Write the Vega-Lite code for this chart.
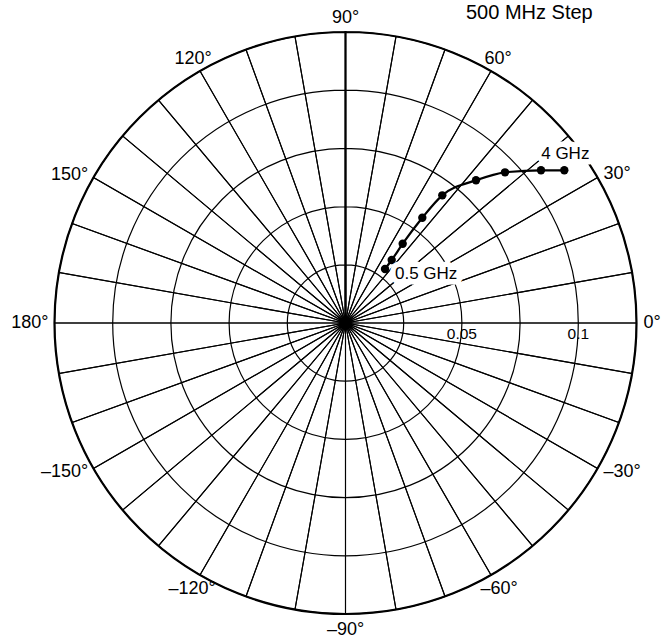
{
  "$schema": "https://vega.github.io/schema/vega-lite/v6.json",
  "width": 582,
  "height": 582,
  "autosize": "none",
  "padding": {"left": 54.5, "top": 32, "right": 31.5, "bottom": 25},
  "background": "white",
  "config": {"view": {"stroke": null}, "font": "Liberation Sans", "text": {"font": "Liberation Sans"}},
  "datasets": {
    "rings": [{"r": 0.025}, {"r": 0.05}, {"r": 0.075}, {"r": 0.1}, {"r": 0.125}],
    "spokes": [
      {"a": 0, "a2": 10}, {"a": 10, "a2": 20}, {"a": 20, "a2": 30}, {"a": 30, "a2": 40},
      {"a": 40, "a2": 50}, {"a": 50, "a2": 60}, {"a": 60, "a2": 70}, {"a": 70, "a2": 80},
      {"a": 80, "a2": 90}, {"a": 90, "a2": 100}, {"a": 100, "a2": 110}, {"a": 110, "a2": 120},
      {"a": 120, "a2": 130}, {"a": 130, "a2": 140}, {"a": 140, "a2": 150}, {"a": 150, "a2": 160},
      {"a": 160, "a2": 170}, {"a": 170, "a2": 180}, {"a": 180, "a2": 190}, {"a": 190, "a2": 200},
      {"a": 200, "a2": 210}, {"a": 210, "a2": 220}, {"a": 220, "a2": 230}, {"a": 230, "a2": 240},
      {"a": 240, "a2": 250}, {"a": 250, "a2": 260}, {"a": 260, "a2": 270}, {"a": 270, "a2": 280},
      {"a": 280, "a2": 290}, {"a": 290, "a2": 300}, {"a": 300, "a2": 310}, {"a": 310, "a2": 320},
      {"a": 320, "a2": 330}, {"a": 330, "a2": 340}, {"a": 340, "a2": 350}, {"a": 350, "a2": 360}
    ],
    "angles": [
      {"phi": 0, "label": "0°", "side": "right"},
      {"phi": 30, "label": "30°", "side": "right"},
      {"phi": -30, "label": "–30°", "side": "right"},
      {"phi": 180, "label": "180°", "side": "left"},
      {"phi": 150, "label": "150°", "side": "left"},
      {"phi": -150, "label": "–150°", "side": "left"},
      {"phi": 60, "label": "60°", "side": "top"},
      {"phi": 90, "label": "90°", "side": "top"},
      {"phi": 120, "label": "120°", "side": "top"},
      {"phi": -60, "label": "–60°", "side": "bottom"},
      {"phi": -90, "label": "–90°", "side": "bottom"},
      {"phi": -120, "label": "–120°", "side": "bottom"}
    ],
    "ticks": [{"v": 0.05, "label": "0.05"}, {"v": 0.1, "label": "0.1"}],
    "heading": [{"hx": 0.1062, "hy": 0.1305, "text": "500 MHz Step"}],
    "s11": [
      {"i": 1, "re": 0.01697, "im": 0.02320, "note": "0.5 GHz"},
      {"i": 2, "re": 0.01985, "im": 0.02706, "note": ""},
      {"i": 3, "re": 0.02457, "im": 0.03406, "note": ""},
      {"i": 4, "re": 0.03299, "im": 0.04523, "note": ""},
      {"i": 5, "re": 0.04158, "im": 0.05485, "note": ""},
      {"i": 6, "re": 0.05606, "im": 0.06130, "note": ""},
      {"i": 7, "re": 0.06851, "im": 0.06473, "note": ""},
      {"i": 8, "re": 0.08398, "im": 0.06559, "note": ""},
      {"i": 9, "re": 0.09399, "im": 0.06559, "note": "4 GHz"}
    ]
  },
  "layer": [
    {
      "data": {"name": "spokes"},
      "mark": {"type": "arc", "filled": false, "stroke": "black", "strokeWidth": 1.1},
      "encoding": {
        "theta": {"field": "a", "type": "quantitative", "stack": null, "scale": {"domain": [90, -270], "range": [0, 6.283185307]}},
        "theta2": {"field": "a2"},
        "radius": {"value": 291}
      }
    },
    {
      "data": {"name": "rings"},
      "mark": {"type": "arc", "filled": false, "stroke": "black", "theta": 0, "theta2": 6.283185307},
      "encoding": {
        "radius": {"field": "r", "type": "quantitative", "stack": null, "scale": {"type": "linear", "domain": [0, 0.125], "range": [0, 291], "zero": true}},
        "strokeWidth": {"condition": {"test": "datum.r >= 0.125", "value": 2.2}, "value": 1.2}
      }
    },
    {
      "data": {"name": "angles"},
      "transform": [{"filter": "datum.side == 'right'"}],
      "mark": {"type": "text", "align": "left", "baseline": "middle", "fontSize": 18, "color": "black"},
      "encoding": {
        "theta": {"field": "phi", "type": "quantitative", "stack": null},
        "radius": {"value": 298},
        "text": {"field": "label"}
      }
    },
    {
      "data": {"name": "angles"},
      "transform": [{"filter": "datum.side == 'left'"}],
      "mark": {"type": "text", "align": "right", "baseline": "middle", "fontSize": 18, "color": "black"},
      "encoding": {
        "theta": {"field": "phi", "type": "quantitative", "stack": null},
        "radius": {"value": 297},
        "text": {"field": "label"}
      }
    },
    {
      "data": {"name": "angles"},
      "transform": [{"filter": "datum.side == 'top'"}],
      "mark": {"type": "text", "align": "center", "baseline": "middle", "fontSize": 18, "color": "black"},
      "encoding": {
        "theta": {"field": "phi", "type": "quantitative", "stack": null},
        "radius": {"value": 305},
        "text": {"field": "label"}
      }
    },
    {
      "data": {"name": "angles"},
      "transform": [{"filter": "datum.side == 'bottom'"}],
      "mark": {"type": "text", "align": "center", "baseline": "middle", "fontSize": 18, "color": "black"},
      "encoding": {
        "theta": {"field": "phi", "type": "quantitative", "stack": null},
        "radius": {"value": 307},
        "text": {"field": "label"}
      }
    },
    {
      "data": {"name": "ticks"},
      "mark": {"type": "text", "align": "center", "baseline": "middle", "dy": 11, "fontSize": 15.5, "color": "black"},
      "encoding": {
        "x": {"field": "v", "type": "quantitative", "scale": {"domain": [-0.125, 0.125], "nice": false, "zero": false}, "axis": null},
        "y": {"datum": 0, "type": "quantitative", "scale": {"domain": [-0.125, 0.125], "nice": false, "zero": false}, "axis": null},
        "text": {"field": "label"}
      }
    },
    {
      "data": {"name": "heading"},
      "mark": {"type": "text", "align": "right", "baseline": "alphabetic", "fontSize": 20, "color": "black"},
      "encoding": {
        "x": {"field": "hx", "type": "quantitative"},
        "y": {"field": "hy", "type": "quantitative"},
        "text": {"field": "text"}
      }
    },
    {
      "data": {"name": "s11"},
      "mark": {"type": "line", "color": "black", "strokeWidth": 2.2, "interpolate": "monotone"},
      "encoding": {
        "x": {"field": "re", "type": "quantitative"},
        "y": {"field": "im", "type": "quantitative"},
        "order": {"field": "i"}
      }
    },
    {
      "data": {"name": "s11"},
      "mark": {"type": "circle", "color": "black", "opacity": 1, "size": 70},
      "encoding": {
        "x": {"field": "re", "type": "quantitative"},
        "y": {"field": "im", "type": "quantitative"}
      }
    },
    {
      "data": {"name": "s11"},
      "transform": [{"filter": "datum.i == 1"}],
      "mark": {"type": "text", "align": "left", "baseline": "middle", "dx": 10, "dy": 5, "fontSize": 17, "color": "black", "stroke": "white", "strokeWidth": 11, "strokeJoin": "round"},
      "encoding": {
        "x": {"field": "re", "type": "quantitative"},
        "y": {"field": "im", "type": "quantitative"},
        "text": {"field": "note"}
      }
    },
    {
      "data": {"name": "s11"},
      "transform": [{"filter": "datum.i == 1"}],
      "mark": {"type": "text", "align": "left", "baseline": "middle", "dx": 10, "dy": 5, "fontSize": 17, "color": "black"},
      "encoding": {
        "x": {"field": "re", "type": "quantitative"},
        "y": {"field": "im", "type": "quantitative"},
        "text": {"field": "note"}
      }
    },
    {
      "data": {"name": "s11"},
      "transform": [{"filter": "datum.i == 9"}],
      "mark": {"type": "text", "align": "center", "baseline": "middle", "dx": 1, "dy": -16, "fontSize": 17, "color": "black", "stroke": "white", "strokeWidth": 11, "strokeJoin": "round"},
      "encoding": {
        "x": {"field": "re", "type": "quantitative"},
        "y": {"field": "im", "type": "quantitative"},
        "text": {"field": "note"}
      }
    },
    {
      "data": {"name": "s11"},
      "transform": [{"filter": "datum.i == 9"}],
      "mark": {"type": "text", "align": "center", "baseline": "middle", "dx": 1, "dy": -16, "fontSize": 17, "color": "black"},
      "encoding": {
        "x": {"field": "re", "type": "quantitative"},
        "y": {"field": "im", "type": "quantitative"},
        "text": {"field": "note"}
      }
    }
  ]
}
